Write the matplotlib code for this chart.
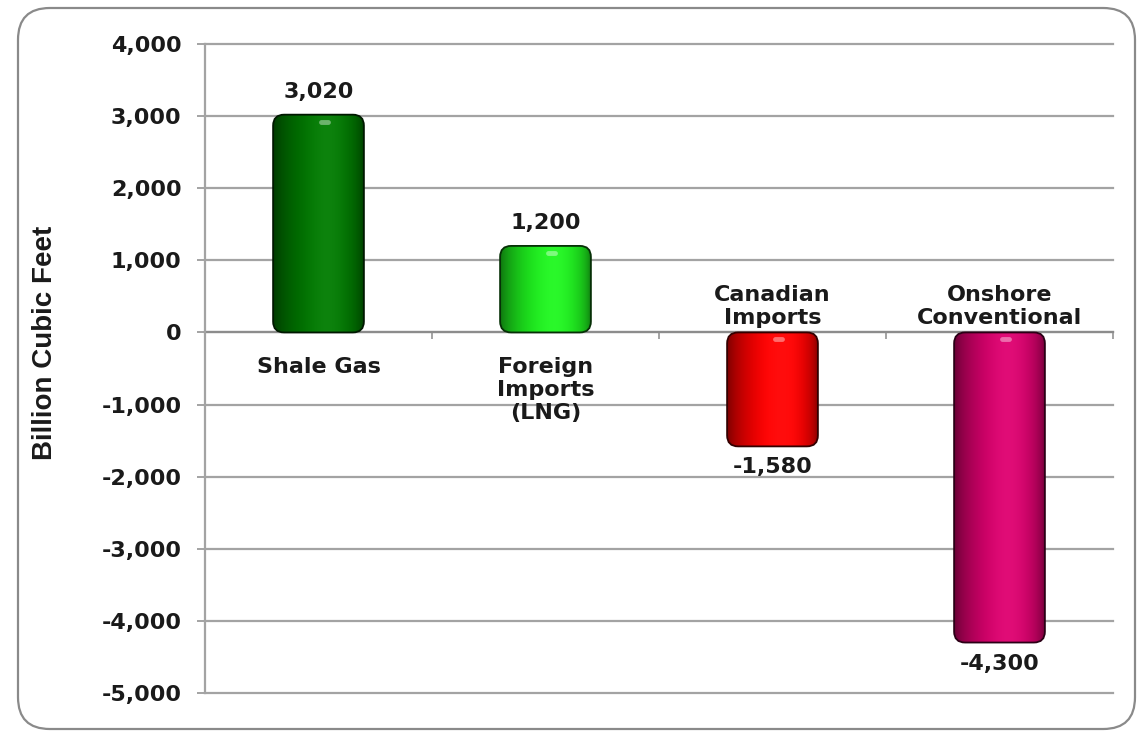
import numpy as np
import matplotlib
matplotlib.use("Agg")
import matplotlib.pyplot as plt
from matplotlib.patches import FancyBboxPatch
from matplotlib.ticker import FuncFormatter, FixedLocator
from matplotlib.colors import to_rgb

categories = ["Shale Gas", "Foreign\nImports\n(LNG)", "Canadian\nImports", "Onshore\nConventional"]
values = [3020, 1200, -1580, -4300]
bar_colors = ["#007800", "#1ef01e", "#ff0000", "#d8006c"]
# where each category name goes relative to the zero line
label_above_zero = [False, False, True, True]

yticks = list(range(-5000, 4001, 1000))

plt.rcParams["font.family"] = ["DejaVu Sans"]
plt.rcParams["font.weight"] = "bold"
TXT = "#1a1a1a"
GRID = "#a3a3a3"
FS = 16

W, H = 1137, 731
fig = plt.figure(figsize=(W / 100, H / 100), dpi=100)

# rounded outer frame
frame = FancyBboxPatch((18 / W, 2 / H), 1117 / W, 721 / H,
                       boxstyle="round,pad=0,rounding_size=0.028",
                       mutation_aspect=W / H,
                       transform=fig.transFigure, facecolor="none",
                       edgecolor="#8a8a8a", linewidth=1.6, zorder=-1)
fig.patches.append(frame)

ax_l, ax_r, ax_t, ax_b = 205, 1113, 44, 693
ax = fig.add_axes([ax_l / W, 1 - ax_b / H, (ax_r - ax_l) / W, (ax_b - ax_t) / H])
ax.set_facecolor("none")

xlim = (-0.5, len(categories) - 0.5)
ylim = (yticks[0], yticks[-1])

# data units per pixel, for round corners that look circular on screen
x_per_px = (xlim[1] - xlim[0]) / (ax_r - ax_l)
y_per_px = (ylim[1] - ylim[0]) / (ax_b - ax_t)
aspect = y_per_px / x_per_px

bar_w = 0.40
radius = 11 * x_per_px

# horizontal shading profile for the cylinder look
t = np.linspace(0, 1, 200)
shade = 0.45 + 0.58 * np.clip(np.sin(np.pi * t ** 1.3), 0, 1) ** 0.5
shine = np.exp(-((t - 0.6) / 0.2) ** 2) * 0.05

for i, (v, c) in enumerate(zip(values, bar_colors)):
    base = np.array(to_rgb(c))
    x0 = i - bar_w / 2
    y0, y1 = min(0, v), max(0, v)
    patch = FancyBboxPatch((x0, y0), bar_w, y1 - y0,
                           boxstyle=f"round,pad=0,rounding_size={radius}",
                           mutation_aspect=aspect,
                           facecolor="none", edgecolor=base * 0.2,
                           linewidth=1.3, zorder=4)
    ax.add_patch(patch)
    rgb = np.clip(base[None, :] * shade[:, None] + (1 - base[None, :]) * shine[:, None], 0, 1)
    img = np.repeat(rgb[None, :, :], 2, axis=0)
    im = ax.imshow(img, extent=[x0, x0 + bar_w, y0, y1], aspect="auto",
                   interpolation="bilinear", zorder=3)
    im.set_clip_path(patch)
    # small highlight near the top cap
    ax.plot([i + 0.01, i + 0.04], [y1 - 7 * y_per_px] * 2, color="white",
            alpha=0.4, lw=3.5, solid_capstyle="round", zorder=5)

    # value label at the bar end
    if v >= 0:
        ax.annotate(f"{v:,}", (i, v), xytext=(0, 9), textcoords="offset points",
                    ha="center", va="bottom", fontsize=FS, color=TXT, zorder=6)
    else:
        ax.annotate(f"{v:,}", (i, v), xytext=(0, -8), textcoords="offset points",
                    ha="center", va="top", fontsize=FS, color=TXT, zorder=6)

# category names beside the zero line
for i, (name, above) in enumerate(zip(categories, label_above_zero)):
    if above:
        ax.annotate(name, (i, 0), xytext=(0, 3), textcoords="offset points",
                    ha="center", va="bottom", fontsize=FS, color=TXT,
                    linespacing=1.18, zorder=6)
    else:
        ax.annotate(name, (i, 0), xytext=(0, -18), textcoords="offset points",
                    ha="center", va="top", fontsize=FS, color=TXT,
                    linespacing=1.18, zorder=6)

ax.set_xlim(*xlim)
ax.set_ylim(*ylim)

ax.set_yticks(yticks)
ax.yaxis.set_major_formatter(FuncFormatter(lambda v, p: f"{v:,.0f}"))
ax.tick_params(axis="y", length=6, width=1.4, color=GRID, labelsize=FS,
               labelcolor=TXT, pad=11)

# category boundaries as ticks on the zero line
ax.xaxis.set_major_locator(FixedLocator([i + 0.5 for i in range(len(categories))]))
ax.set_xticklabels([])
ax.tick_params(axis="x", length=5, width=1.4, color=GRID, direction="out")

ax.spines["bottom"].set_position(("data", 0))
ax.spines["bottom"].set_color("#8c8c8c")
ax.spines["bottom"].set_linewidth(1.6)
ax.spines["bottom"].set_zorder(2)
ax.spines["left"].set_color(GRID)
ax.spines["left"].set_linewidth(1.6)
ax.spines["top"].set_visible(False)
ax.spines["right"].set_visible(False)

ax.grid(axis="y", color=GRID, linewidth=1.6, zorder=0)
ax.set_axisbelow(True)
for gl in ax.get_ygridlines():
    gl.set_clip_on(False)

fig.text(45 / W, 1 - 343 / H, "Billion Cubic Feet", rotation=90,
         ha="center", va="center", fontsize=20, fontweight="bold", color=TXT,
         family=["Liberation Sans", "DejaVu Sans"])

fig.savefig("out.png", dpi=100)
